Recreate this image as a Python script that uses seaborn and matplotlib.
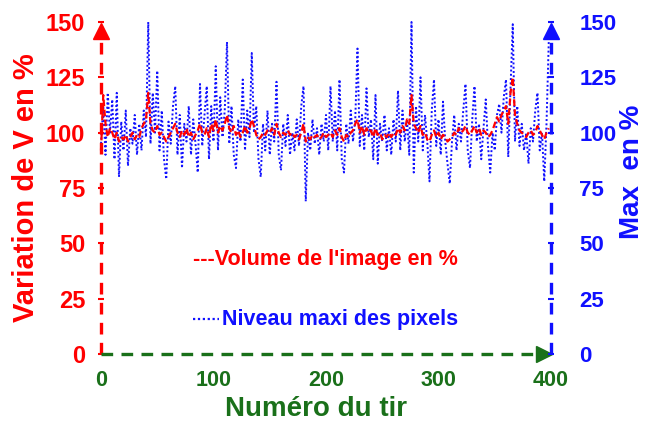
import numpy as np
import pandas as pd
import matplotlib
matplotlib.use("Agg")
import matplotlib.pyplot as plt
import seaborn as sns

# ---- data (one value every 2 shots) ----
blue_max = [95, 112, 90, 118, 100, 115, 88, 118, 80, 105, 92, 110, 85, 102, 95, 108, 90, 104, 92, 110,
            98, 150, 95, 118, 100, 128, 92, 110, 88, 79, 105, 95, 112, 121, 90, 108, 84, 104, 96, 112,
            90, 106, 95, 82, 122, 94, 108, 121, 88, 112, 96, 130, 92, 116, 98, 110, 141, 95, 112, 90,
            84, 106, 96, 124, 92, 110, 98, 136, 100, 112, 88, 80, 104, 92, 110, 90, 104, 96, 123, 90,
            83, 104, 94, 108, 90, 100, 92, 106, 94, 112, 121, 69, 100, 92, 106, 95, 102, 90, 104, 96,
            108, 92, 121, 96, 110, 92, 124, 88, 82, 104, 95, 110, 96, 106, 138, 94, 108, 92, 120, 98,
            106, 88, 117, 86, 104, 96, 108, 92, 102, 90, 106, 96, 119, 92, 110, 96, 106, 90, 150, 82,
            112, 96, 125, 92, 108, 96, 78, 110, 124, 94, 106, 90, 114, 96, 86, 77, 96, 108, 92, 104,
            96, 110, 122, 92, 84, 106, 121, 96, 104, 88, 102, 115, 94, 82, 100, 92, 108, 113, 100, 116,
            124, 89, 120, 149, 96, 112, 94, 104, 92, 100, 86, 102, 96, 110, 118, 92, 100, 78, 104, 141]

red_volume = [92, 117, 104, 98, 102, 100, 97, 100, 96, 98, 97, 99, 96, 98, 100, 97, 99, 98, 102, 104,
              106, 118, 104, 101, 100, 103, 99, 100, 98, 96, 98, 100, 102, 104, 100, 98, 101, 99, 102, 98,
              100, 97, 99, 101, 104, 100, 99, 102, 98, 104, 101, 106, 100, 103, 101, 104, 108, 102, 100, 103,
              99, 101, 98, 100, 103, 100, 102, 106, 103, 99, 97, 98, 100, 99, 101, 100, 102, 99, 104, 100,
              98, 100, 99, 101, 99, 100, 98, 99, 97, 100, 104, 96, 98, 97, 99, 98, 99, 97, 98, 100,
              98, 99, 100, 98, 101, 99, 102, 98, 96, 99, 98, 100, 101, 104, 106, 100, 103, 99, 102, 100,
              101, 98, 102, 99, 100, 97, 99, 98, 100, 98, 100, 99, 102, 100, 103, 101, 106, 104, 117, 104,
              102, 100, 103, 99, 100, 97, 96, 99, 101, 98, 100, 97, 99, 98, 96, 97, 98, 100, 99, 102,
              100, 101, 103, 100, 99, 101, 103, 100, 102, 99, 101, 100, 98, 99, 101, 104, 107, 105, 108, 110,
              112, 104, 118, 125, 108, 104, 101, 100, 99, 98, 100, 101, 99, 100, 103, 101, 99, 97, 100, 102]

x_ticks = [0, 100, 200, 300, 400]
y_ticks = [0, 25, 50, 75, 100, 125, 150]

shots = np.arange(len(blue_max)) * 2
df = pd.DataFrame({"tir": shots, "max": blue_max, "vol": red_volume})

RED = "#ff0000"
BLUE = "#1010ff"
GREEN = "#1a701a"

sns.set_style("white")
plt.rcParams["font.family"] = ["Liberation Sans", "DejaVu Sans"]
plt.rcParams["font.weight"] = "bold"

fig = plt.figure(figsize=(6.48, 4.25), dpi=100)
ax = fig.add_axes([101 / 648, 1 - 354 / 425, 450 / 648, 332 / 425])

sns.lineplot(data=df, x="tir", y="max", ax=ax, color=BLUE, lw=1.4,
             linestyle=(0, (1, 1.2)), clip_on=False)
sns.lineplot(data=df, x="tir", y="vol", ax=ax, color=RED, lw=1.6,
             linestyle=(0, (3, 1.5)), clip_on=False)

ax.set_xlim(0, 400)
ax.set_ylim(0, 150)
for s in ax.spines.values():
    s.set_visible(False)

ax2 = ax.twinx()
ax2.set_ylim(0, 150)
for s in ax2.spines.values():
    s.set_visible(False)

# dashed arrow axes
dash = (0, (3.5, 2.5))
ax.plot([0, 0], [0, 144], color=RED, lw=2.4, ls=dash, clip_on=False, zorder=5)
ax.plot([0], [146], marker="^", ms=11, color=RED, clip_on=False, zorder=5)
ax.plot([400, 400], [0, 144], color=BLUE, lw=2.4, ls=dash, clip_on=False, zorder=5)
ax.plot([400], [146], marker="^", ms=11, color=BLUE, clip_on=False, zorder=5)
ax.plot([0, 393], [0, 0], color=GREEN, lw=2.4, ls=dash, clip_on=False, zorder=6)
ax.plot([394], [0], marker=">", ms=11, color=GREEN, clip_on=False, zorder=6)

ax.set_xticks(x_ticks)
ax.set_xticklabels([str(v) for v in x_ticks], color=GREEN, fontsize=15.5, fontweight="bold")
ax.set_yticks(y_ticks)
ax.set_yticklabels([str(v) for v in y_ticks], color=RED, fontsize=17, fontweight="bold")
ax2.set_yticks(y_ticks)
ax2.set_yticklabels([str(v) for v in y_ticks], color=BLUE, fontsize=16, fontweight="bold")

ax.tick_params(axis="x", colors=GREEN, length=5, width=1.5, direction="inout", pad=9)
ax.tick_params(axis="y", colors=RED, length=5, width=1.5, direction="inout", pad=9)
ax2.tick_params(axis="y", colors=BLUE, length=5, width=1.5, direction="inout", pad=18)

ax.set_xlabel("Numéro du tir", color=GREEN, fontsize=20, fontweight="bold")
ax.xaxis.set_label_coords(0.478, -0.128)
ax.set_ylabel("Variation de V en %", color=RED, fontsize=21, fontweight="bold", labelpad=4)
ax2.set_ylabel("Max  en %", color=BLUE, fontsize=20, fontweight="bold", labelpad=2)
ax2.yaxis.label.set_y(0.548)

ax.text(0.205, 0.285, "---Volume de l'image en %", transform=ax.transAxes, color=RED,
        fontsize=15.5, fontweight="bold", va="center", ha="left")
ax.text(0.27, 0.105, "Niveau maxi des pixels", transform=ax.transAxes, color=BLUE,
        fontsize=15.5, fontweight="bold", va="center", ha="left")
ax.plot([0.205, 0.262], [0.105, 0.105], transform=ax.transAxes, color=BLUE,
        lw=1.6, ls=(0, (1, 1.2)))

fig.savefig("out.png", dpi=100)
